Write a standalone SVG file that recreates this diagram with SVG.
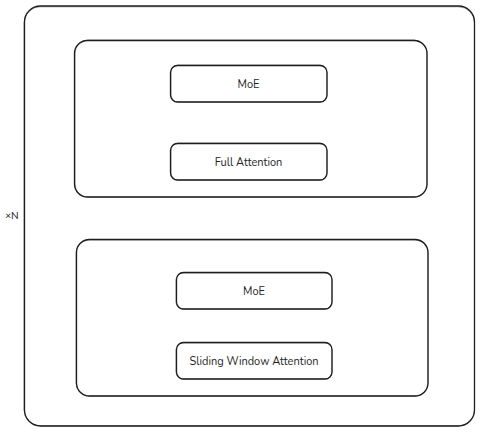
<svg xmlns="http://www.w3.org/2000/svg" width="480" height="432" viewBox="0 0 480 432">
  <style>
    .box { fill: none; stroke: #1e1e1e; stroke-width: 1.3; }
    .sketch { fill: none; stroke: #1e1e1e; stroke-width: 0.6; opacity: 0.7; }
    .label { font-family: "Nunito", Lato, "Open Sans", sans-serif; font-size: 11px; fill: #1e1e1e; text-anchor: middle; dominant-baseline: central; }
  </style>
  <rect width="480" height="432" fill="#ffffff"/>

  <!-- repeated stack -->
  <g id="stack">
    <rect class="box" x="24.5" y="6" width="450" height="420" rx="16"/>
    <rect class="sketch" x="24" y="6.8" width="450.5" height="419" rx="16"/>
    <text x="12" y="215" font-family="Lato, 'Open Sans', sans-serif" font-size="10" fill="#1e1e1e" text-anchor="middle" dominant-baseline="central">×N</text>
  </g>

  <!-- full-attention block -->
  <g id="block-full">
    <rect class="box" x="74.5" y="40.5" width="352.5" height="156.5" rx="13"/>
    <rect class="sketch" x="75" y="40" width="352" height="157" rx="13"/>
  </g>
  <g id="moe-1">
    <rect class="box" x="170.5" y="65.5" width="156.5" height="36.5" rx="7"/>
    <rect class="sketch" x="171" y="65" width="156" height="37" rx="7"/>
    <text class="label" x="248.5" y="84">MoE</text>
  </g>
  <g id="full-attention">
    <rect class="box" x="170.5" y="143.5" width="156.5" height="36.5" rx="7"/>
    <rect class="sketch" x="171" y="143" width="156" height="37" rx="7"/>
    <text class="label" x="248.5" y="162">Full Attention</text>
  </g>

  <!-- sliding-window block -->
  <g id="block-sliding">
    <rect class="box" x="76.5" y="239.5" width="351.5" height="156.5" rx="13"/>
    <rect class="sketch" x="76" y="240" width="352" height="156" rx="13"/>
  </g>
  <g id="moe-2">
    <rect class="box" x="176.5" y="272.5" width="155.5" height="36.5" rx="7"/>
    <rect class="sketch" x="176" y="273" width="156" height="36" rx="7"/>
    <text class="label" x="254" y="291">MoE</text>
  </g>
  <g id="sliding-window-attention">
    <rect class="box" x="176.5" y="342.5" width="155.5" height="36.5" rx="7"/>
    <rect class="sketch" x="176" y="343" width="156" height="36" rx="7"/>
    <text class="label" x="254" y="361">Sliding Window Attention</text>
  </g>

  <g id="connectors"/>
</svg>
